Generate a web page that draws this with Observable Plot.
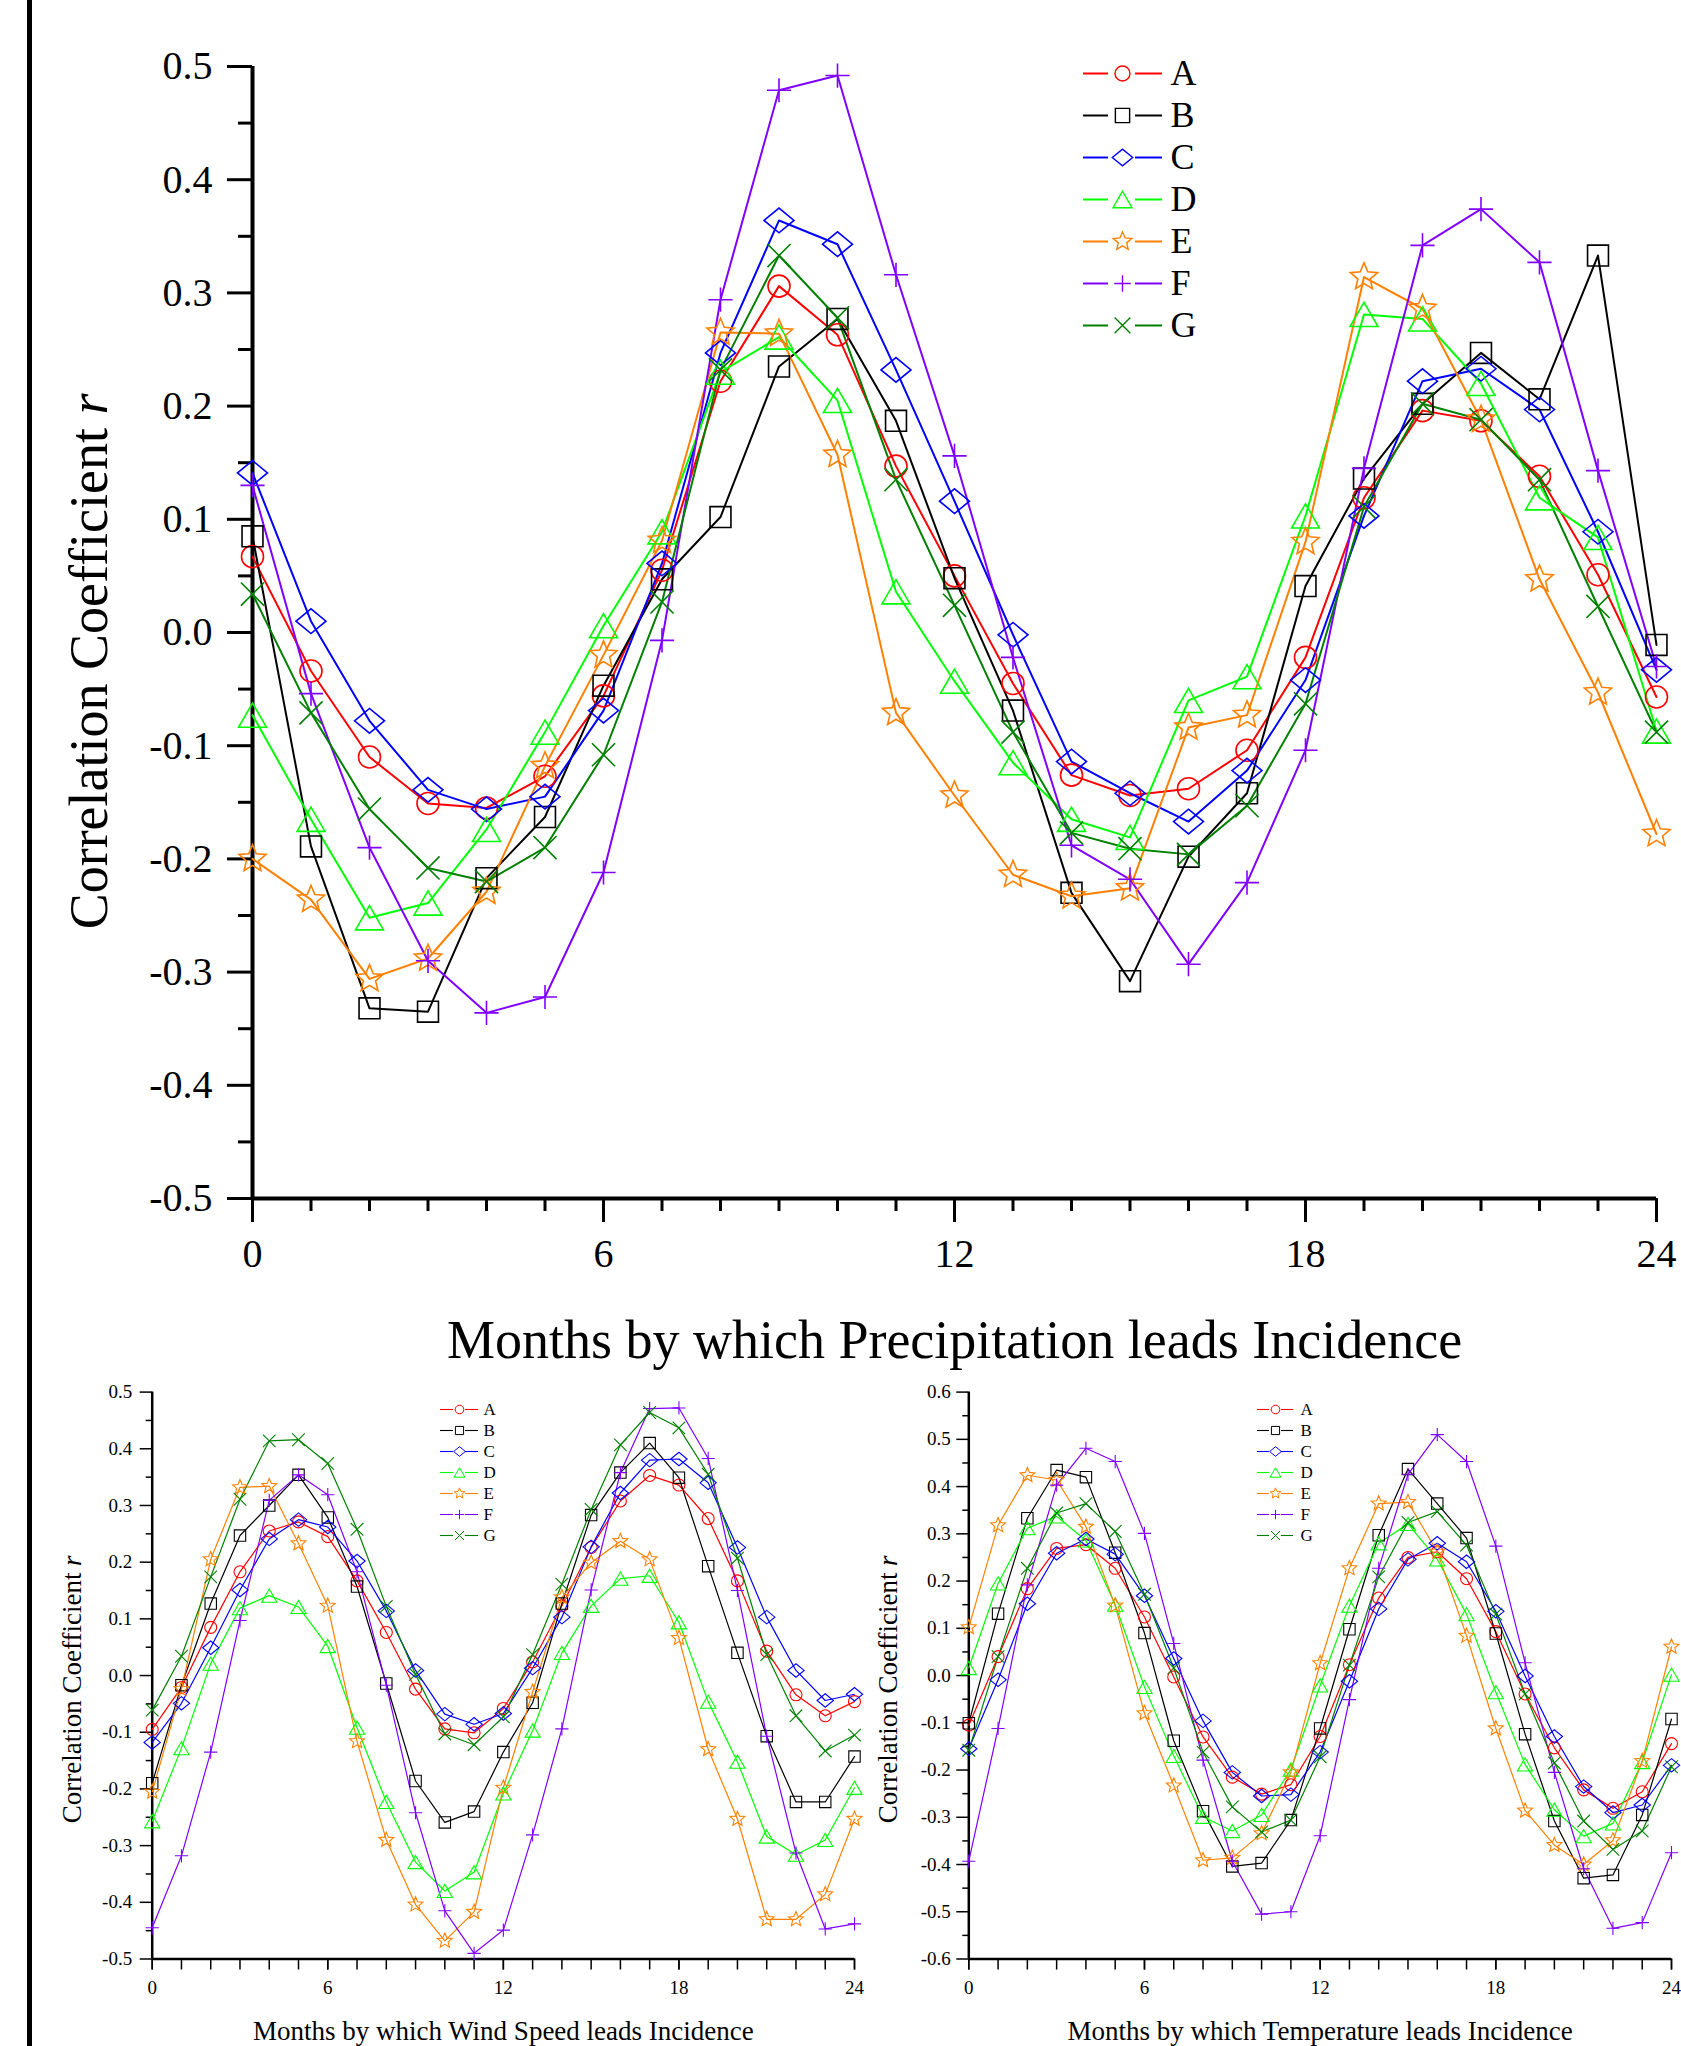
<!DOCTYPE html>
<html><head><meta charset="utf-8">
<script src="https://cdn.jsdelivr.net/npm/d3@7"></script>
<script src="https://cdn.jsdelivr.net/npm/@observablehq/plot@0.6"></script>
<style>
html,body{margin:0;padding:0;background:#fff;}
#root{position:relative;width:1681px;height:2046px;overflow:hidden;background:#fff;font-family:"Liberation Serif","Times New Roman",serif;}
#edge{position:absolute;left:27px;top:0;width:5px;height:2046px;background:#000;}
</style></head><body><div id="root"><div id="edge"></div></div>
<script>
// ---- categories / styling lists ----
const series = ["A","B","C","D","E","F","G"];
const colors = ["#ff0000","#000000","#0000ff","#00ff00","#ff8000","#8000ff","#008000"];
const months = d3.range(0, 25);
const xMajorTicks = [0, 6, 12, 18, 24];
const yTicksHalf = [-0.5,-0.4,-0.3,-0.2,-0.1,0,0.1,0.2,0.3,0.4,0.5];
const yMinorHalf = [-0.45,-0.35,-0.25,-0.15,-0.05,0.05,0.15,0.25,0.35,0.45];
const yTicksSix = [-0.6,-0.5,-0.4,-0.3,-0.2,-0.1,0,0.1,0.2,0.3,0.4,0.5,0.6];
const yMinorSix = [-0.55,-0.45,-0.35,-0.25,-0.15,-0.05,0.05,0.15,0.25,0.35,0.45,0.55];
const yTitleMain = "Correlation Coefficient";
const yTitleVar = "r";
const titlePrecip = "Months by which Precipitation leads Incidence";
const titleWind = "Months by which Wind Speed leads Incidence";
const titleTemp = "Months by which Temperature leads Incidence";

// ---- Precipitation (top panel), lags 0..24 ----
const pA = [0.067,-0.034,-0.110,-0.151,-0.155,-0.127,-0.056,0.055,0.222,0.306,0.263,0.147,0.050,-0.045,-0.126,-0.144,-0.138,-0.104,-0.022,0.119,0.196,0.187,0.138,0.051,-0.057];
const pB = [0.085,-0.189,-0.332,-0.335,-0.217,-0.163,-0.047,0.047,0.102,0.235,0.277,0.187,0.048,-0.069,-0.230,-0.308,-0.198,-0.142,0.041,0.136,0.202,0.247,0.206,0.333,-0.011];
const pC = [0.141,0.010,-0.078,-0.139,-0.156,-0.145,-0.069,0.061,0.247,0.364,0.343,0.232,0.116,-0.002,-0.114,-0.142,-0.167,-0.122,-0.042,0.103,0.222,0.233,0.197,0.089,-0.033];
const pD = [-0.073,-0.165,-0.252,-0.239,-0.174,-0.088,0.006,0.089,0.230,0.261,0.205,0.036,-0.043,-0.115,-0.165,-0.181,-0.060,-0.039,0.103,0.281,0.277,0.220,0.119,0.084,-0.087];
const pE = [-0.200,-0.236,-0.306,-0.288,-0.229,-0.118,-0.020,0.081,0.265,0.264,0.157,-0.071,-0.144,-0.214,-0.233,-0.226,-0.084,-0.073,0.080,0.314,0.286,0.188,0.047,-0.053,-0.178];
const pF = [0.130,-0.054,-0.190,-0.290,-0.336,-0.322,-0.212,-0.007,0.294,0.479,0.492,0.316,0.156,-0.022,-0.188,-0.218,-0.293,-0.221,-0.104,0.145,0.342,0.374,0.327,0.143,-0.030];
const pG = [0.034,-0.071,-0.156,-0.208,-0.220,-0.190,-0.108,0.027,0.232,0.333,0.278,0.135,0.024,-0.088,-0.177,-0.191,-0.196,-0.153,-0.063,0.111,0.202,0.188,0.135,0.023,-0.088];

// ---- Wind speed (bottom left) ----
const wA = [-0.095,-0.021,0.085,0.183,0.255,0.271,0.245,0.167,0.076,-0.024,-0.094,-0.101,-0.058,0.024,0.123,0.226,0.308,0.353,0.336,0.277,0.167,0.043,-0.034,-0.071,-0.046];
const wB = [-0.190,-0.017,0.127,0.247,0.300,0.354,0.279,0.157,-0.014,-0.186,-0.259,-0.240,-0.135,-0.048,0.127,0.283,0.358,0.410,0.349,0.193,0.040,-0.107,-0.223,-0.223,-0.143];
const wC = [-0.118,-0.049,0.049,0.151,0.241,0.275,0.262,0.202,0.114,0.009,-0.068,-0.086,-0.067,0.013,0.103,0.227,0.322,0.380,0.382,0.340,0.226,0.103,0.009,-0.044,-0.033];
const wD = [-0.257,-0.128,0.021,0.119,0.141,0.121,0.052,-0.092,-0.223,-0.329,-0.380,-0.347,-0.208,-0.097,0.040,0.123,0.171,0.176,0.094,-0.046,-0.152,-0.284,-0.316,-0.290,-0.198];
const wE = [-0.205,-0.024,0.205,0.332,0.334,0.233,0.123,-0.116,-0.290,-0.404,-0.468,-0.417,-0.198,-0.029,0.138,0.199,0.237,0.205,0.066,-0.130,-0.253,-0.430,-0.430,-0.386,-0.253];
const wF = [-0.445,-0.318,-0.135,0.097,0.309,0.354,0.319,0.183,-0.017,-0.242,-0.415,-0.490,-0.449,-0.281,-0.094,0.151,0.358,0.471,0.472,0.383,0.150,-0.107,-0.313,-0.447,-0.438];
const wG = [-0.061,0.034,0.174,0.311,0.414,0.416,0.374,0.258,0.122,0.002,-0.103,-0.122,-0.073,0.037,0.161,0.293,0.407,0.464,0.437,0.355,0.207,0.037,-0.071,-0.133,-0.105];

// ---- Temperature (bottom right) ----
const tA = [-0.105,0.040,0.184,0.269,0.277,0.227,0.124,-0.003,-0.130,-0.215,-0.251,-0.231,-0.129,0.023,0.164,0.250,0.262,0.205,0.093,-0.039,-0.153,-0.242,-0.281,-0.246,-0.144];
const tB = [-0.101,0.131,0.333,0.435,0.420,0.260,0.090,-0.138,-0.287,-0.404,-0.397,-0.306,-0.112,0.098,0.297,0.437,0.364,0.291,0.089,-0.124,-0.308,-0.429,-0.422,-0.295,-0.092];
const tC = [-0.155,-0.009,0.152,0.259,0.289,0.257,0.169,0.036,-0.096,-0.205,-0.255,-0.252,-0.162,-0.012,0.141,0.246,0.280,0.241,0.136,-0.001,-0.129,-0.235,-0.290,-0.274,-0.190];
const tD = [0.016,0.195,0.312,0.337,0.286,0.150,-0.024,-0.170,-0.299,-0.329,-0.295,-0.199,-0.021,0.148,0.280,0.321,0.246,0.130,-0.035,-0.188,-0.284,-0.340,-0.313,-0.183,0.002];
const tE = [0.102,0.318,0.424,0.414,0.315,0.148,-0.080,-0.233,-0.391,-0.386,-0.334,-0.205,0.026,0.227,0.364,0.367,0.262,0.084,-0.112,-0.286,-0.359,-0.400,-0.349,-0.181,0.061];
const tF = [-0.393,-0.112,0.192,0.403,0.481,0.453,0.301,0.068,-0.179,-0.393,-0.505,-0.500,-0.339,-0.051,0.227,0.426,0.510,0.453,0.274,0.027,-0.205,-0.409,-0.535,-0.523,-0.375];
const tG = [-0.158,0.040,0.227,0.344,0.364,0.305,0.172,0.016,-0.162,-0.278,-0.331,-0.306,-0.172,0.022,0.209,0.324,0.347,0.276,0.130,-0.039,-0.185,-0.308,-0.368,-0.329,-0.193];

// ---- symbols (Origin-like outlines) ----
function mk(fn){ return {draw(ctx, size){ const r = Math.sqrt(size/Math.PI); fn(ctx, r); }}; }
const symCircle = mk((c,r)=>{ c.moveTo(r,0); c.arc(0,0,r,0,2*Math.PI); });
const symSquare = mk((c,r)=>{ const s=0.95*r; c.rect(-s,-s,2*s,2*s); });
const symDiamond = mk((c,r)=>{ const w=1.36*r,h=1.12*r; c.moveTo(-w,0); c.lineTo(0,-h); c.lineTo(w,0); c.lineTo(0,h); c.closePath(); });
const symTriangle = mk((c,r)=>{ const w=1.27*r,h=1.1*r; c.moveTo(0,-h); c.lineTo(w,h); c.lineTo(-w,h); c.closePath(); });
const symStar = mk((c,r)=>{ const R=1.3*r, ri=0.45*R; for(let k=0;k<10;k++){ const a=-Math.PI/2+k*Math.PI/5; const rr=k%2?ri:R; const x=rr*Math.cos(a), y=rr*Math.sin(a); if(k) c.lineTo(x,y); else c.moveTo(x,y);} c.closePath(); });
const symPlus = mk((c,r)=>{ const a=1.1*r; c.moveTo(-a,0); c.lineTo(a,0); c.moveTo(0,-a); c.lineTo(0,a); });
const symTimes = mk((c,r)=>{ const a=1.05*r; c.moveTo(-a,-a); c.lineTo(a,a); c.moveTo(-a,a); c.lineTo(a,-a); });
const symbolList = [symCircle, symSquare, symDiamond, symTriangle, symStar, symPlus, symTimes];

const root = document.getElementById("root");
const FONT = "'Liberation Serif','Times New Roman',serif";
function place(svg, left, top){
  svg.setAttribute("style", `position:absolute;left:${left}px;top:${top}px;font-family:${FONT};background:transparent;overflow:visible;max-width:none;`);
  root.appendChild(svg);
}
function rows(arrs){ return series.flatMap((s,i)=>arrs[i].map((v,m)=>({s, m: months[m], v}))); }

function panel(o){
  const data = rows(o.arrs);
  const fmt = d => d.toFixed(1);
  const svg = Plot.plot({
    width: o.width, height: o.height,
    marginLeft: o.ml, marginRight: o.mr, marginTop: o.mt, marginBottom: o.mb,
    x: {domain: [0, 24], label: null},
    y: {domain: o.yDomain, label: null},
    color: {domain: series, range: colors},
    symbol: {domain: series, range: symbolList},
    marks: [
      Plot.axisY(o.yTicks, {tickSize: o.majorY, tickPadding: o.yPad, tickFormat: fmt, fontSize: o.tickFont, strokeWidth: o.tickW, label: null, fill: "black"}),
      Plot.axisY(o.yMinor, {tickSize: o.minorY, tickFormat: () => "", strokeWidth: o.tickW, label: null}),
      Plot.axisX(xMajorTicks, {tickSize: o.majorX, tickPadding: o.xPad, tickFormat: d => String(d), fontSize: o.tickFont, strokeWidth: o.tickW, label: null, fill: "black"}),
      Plot.axisX(months, {tickSize: o.minorX, tickFormat: () => "", strokeWidth: o.tickW, label: null}),
      Plot.ruleX([0], {y1: o.yDomain[0], y2: o.yDomain[1], strokeWidth: o.axisW, stroke: "black"}),
      Plot.ruleY([o.yDomain[0]], {x1: 0, x2: 24, strokeWidth: o.axisW, stroke: "black"}),
      Plot.line(data, {x: "m", y: "v", z: "s", stroke: "s", strokeWidth: o.lineW}),
      Plot.dot(data, {x: "m", y: "v", stroke: "s", symbol: "s", r: o.dotR, strokeWidth: o.dotW, fill: "none"}),
      Plot.text([o.xTitle], {text: d => d, frameAnchor: "bottom", dy: o.xTitleDy, fontSize: o.titleFont, lineAnchor: "middle", fill: "black"}),
      Plot.text([yTitleMain], {text: d => d, frameAnchor: "top-left", dx: o.yTitleDx, dy: o.yTitleDy1, rotate: -90, textAnchor: "end", lineAnchor: "middle", fontSize: o.titleFont, fill: "black"}),
      Plot.text([yTitleVar], {text: d => d, frameAnchor: "top-left", dx: o.yTitleDx, dy: o.yTitleDy2, rotate: -90, textAnchor: "start", lineAnchor: "middle", fontSize: o.titleFont, fontStyle: "italic", fill: "black"})
    ]
  });
  place(svg, o.left, o.top);
}

function legend(o){
  const H = o.rowH * series.length;
  const svg = Plot.plot({
    width: o.width, height: H, margin: 0,
    x: {type: "identity", axis: null},
    y: {type: "point", domain: series, range: [0, H], padding: 0.5, axis: null},
    color: {domain: series, range: colors},
    symbol: {domain: series, range: symbolList},
    marks: [
      Plot.ruleY(series, {y: d => d, x1: o.l1[0], x2: o.l1[1], stroke: d => d, strokeWidth: o.lineW}),
      Plot.ruleY(series, {y: d => d, x1: o.l2[0], x2: o.l2[1], stroke: d => d, strokeWidth: o.lineW}),
      Plot.dot(series, {x: o.mx, y: d => d, symbol: d => d, stroke: d => d, r: o.r, strokeWidth: o.dotW, fill: "none"}),
      Plot.text(series, {x: o.tx, y: d => d, text: d => d, textAnchor: "start", lineAnchor: "middle", fontSize: o.font, fill: "black"})
    ]
  });
  place(svg, o.left, o.top);
}

// top panel: Precipitation
panel({arrs: [pA,pB,pC,pD,pE,pF,pG], left: 0, top: 0, width: 1681, height: 1380,
  ml: 252, mr: 25, mt: 66, mb: 182, yDomain: [-0.5, 0.5], yTicks: yTicksHalf, yMinor: yMinorHalf,
  majorY: 25, minorY: 14, yPad: 15, tickFont: 40, tickW: 3, majorX: 24, minorX: 13, xPad: 16,
  axisW: 4, lineW: 2, dotR: 11, dotW: 1.6, xTitle: titlePrecip, titleFont: 54, xTitleDy: 142,
  yTitleDx: -163, yTitleDy1: 361.5, yTitleDy2: 348});
legend({left: 1075, top: 52, width: 140, rowH: 42.1, l1: [8, 33], l2: [60, 87], mx: 47, tx: 95, r: 7.5, font: 36, lineW: 2, dotW: 1.4});

// bottom left: Wind speed
panel({arrs: [wA,wB,wC,wD,wE,wF,wG], left: 0, top: 1360, width: 870, height: 686,
  ml: 151.7, mr: 16, mt: 31.6, mb: 87.5, yDomain: [-0.5, 0.5], yTicks: yTicksHalf, yMinor: yMinorHalf,
  majorY: 12, minorY: 6, yPad: 8, tickFont: 19, tickW: 1.5, majorX: 11, minorX: 11, xPad: 10,
  axisW: 2.5, lineW: 1.2, dotR: 6, dotW: 1.1, xTitle: titleWind, titleFont: 27, xTitleDy: 72.5,
  yTitleDx: -80, yTitleDy1: 180.4, yTitleDy2: 173.9});
legend({left: 430, top: 1397.5, width: 80, rowH: 21, l1: [10, 23], l2: [35, 48], mx: 29, tx: 53, r: 4.3, font: 17, lineW: 1.1, dotW: 1});

// bottom right: Temperature
panel({arrs: [tA,tB,tC,tD,tE,tF,tG], left: 860, top: 1360, width: 821, height: 686,
  ml: 108.3, mr: 10, mt: 31.6, mb: 87.5, yDomain: [-0.6, 0.6], yTicks: yTicksSix, yMinor: yMinorSix,
  majorY: 12, minorY: 6, yPad: 6, tickFont: 19, tickW: 1.5, majorX: 11, minorX: 11, xPad: 10,
  axisW: 2.5, lineW: 1.2, dotR: 6, dotW: 1.1, xTitle: titleTemp, titleFont: 27, xTitleDy: 72.5,
  yTitleDx: -80, yTitleDy1: 180.4, yTitleDy2: 173.9});
legend({left: 1247, top: 1397.5, width: 80, rowH: 21, l1: [10, 22], l2: [34, 46], mx: 28, tx: 53, r: 4.3, font: 17, lineW: 1.1, dotW: 1});
</script>
</body></html>
